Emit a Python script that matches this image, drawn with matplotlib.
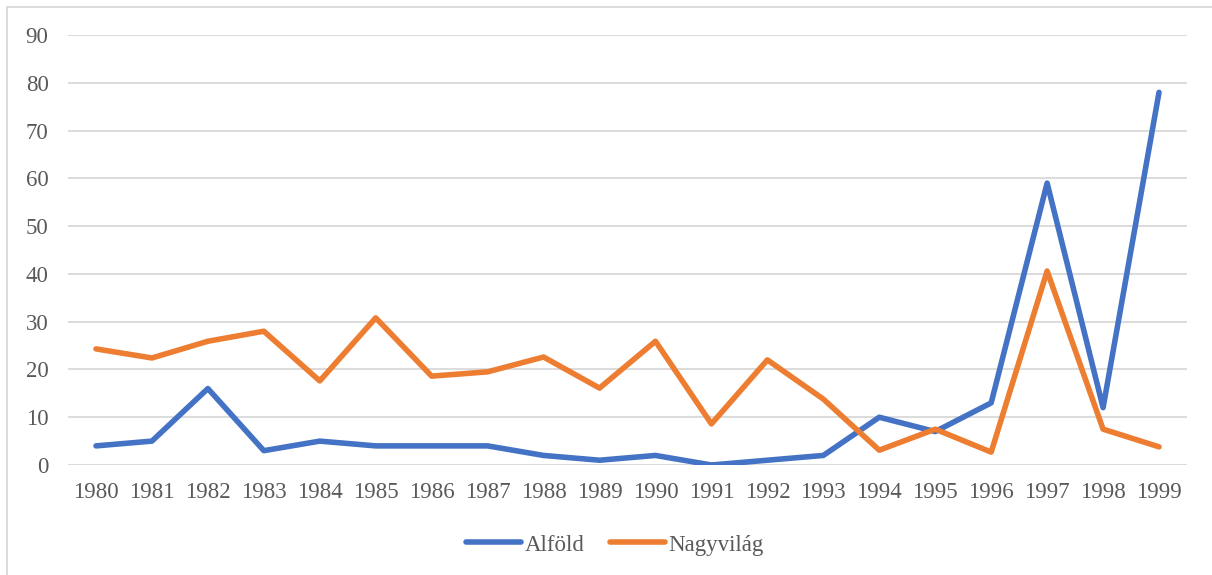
import matplotlib
matplotlib.use("Agg")
import matplotlib.pyplot as plt
from matplotlib.lines import Line2D

years = [str(y) for y in range(1980, 2000)]
alfold = [4, 5, 16, 3, 5, 4, 4, 4, 2, 1, 2, 0, 1, 2, 10, 7, 13, 59, 12, 78]
nagyvilag = [24.3, 22.4, 25.9, 28.0, 17.6, 30.8, 18.6, 19.5, 22.6, 16.1,
             25.9, 8.6, 22.0, 13.8, 3.1, 7.5, 2.7, 40.6, 7.5, 3.8]
series_names = ["Alföld", "Nagyvilág"]
yticks = list(range(0, 100, 10))

W, H = 1212, 575
fig = plt.figure(figsize=(W / 100, H / 100), dpi=100)
plt.rcParams['font.family'] = ['Liberation Serif', 'DejaVu Serif']

ax = fig.add_axes([68 / W, 1 - 465 / H, (1187 - 68) / W, (465 - 35) / H])
x = list(range(len(years)))
blue = "#4472C4"
orange = "#ED7D31"
lw = 4.0
ax.plot(x, alfold, color=blue, lw=lw, solid_joinstyle='round', solid_capstyle='round', zorder=3)
ax.plot(x, nagyvilag, color=orange, lw=lw, solid_joinstyle='round', solid_capstyle='round', zorder=3)

ax.set_xlim(-0.5, len(years) - 0.5)
ax.set_ylim(0, 90)
ax.set_yticks(yticks)
ax.set_xticks(x)
ax.set_xticklabels(years)
ax.grid(axis='y', color='#d9d9d9', lw=1.3)
ax.set_axisbelow(True)
for s in ax.spines.values():
    s.set_visible(False)
ax.tick_params(axis='both', length=0, labelsize=16.5, labelcolor='#595959')
ax.tick_params(axis='y', pad=14)
ax.tick_params(axis='x', pad=12)

handles = [Line2D([0], [0], color=blue, lw=lw, solid_capstyle='round'),
           Line2D([0], [0], color=orange, lw=lw, solid_capstyle='round')]
leg = fig.legend(handles, series_names, loc='center', bbox_to_anchor=(615 / W, 1 - 545 / H),
                 ncol=2, frameon=False, fontsize=16.5, handlelength=2.4, handletextpad=0.15,
                 columnspacing=1.1)
for t in leg.get_texts():
    t.set_color('#595959')

# chart border (left and top visible)
fig.add_artist(Line2D([6.5 / W, 6.5 / W], [0, 1 - 6.5 / H], color='#d9d9d9', lw=1.3))
fig.add_artist(Line2D([6.5 / W, 1], [1 - 6.5 / H, 1 - 6.5 / H], color='#d9d9d9', lw=1.3))

fig.savefig("out.png", dpi=100)
